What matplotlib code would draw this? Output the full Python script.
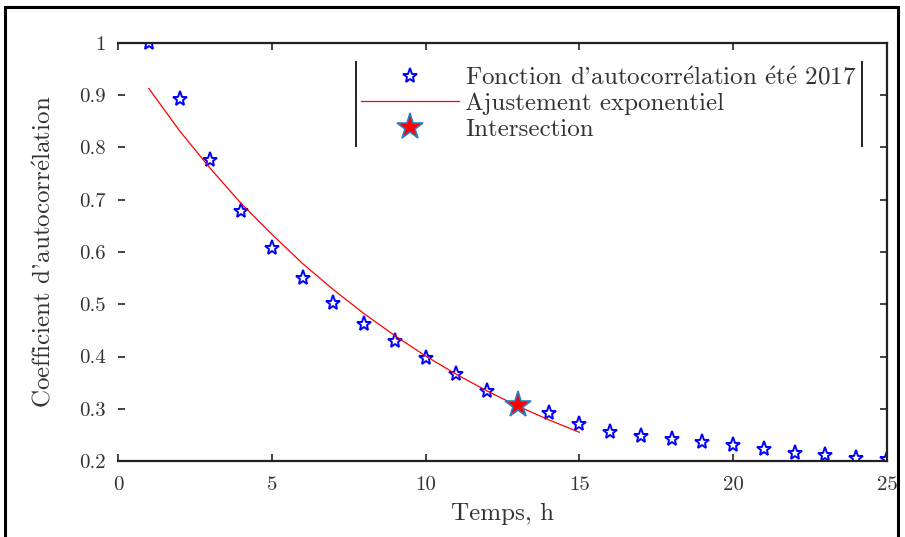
import numpy as np
import matplotlib.pyplot as plt
from matplotlib.patches import Rectangle
from matplotlib.lines import Line2D
from matplotlib.ticker import FuncFormatter

plt.rcParams['font.family'] = ['cmr10', 'DejaVu Serif']
plt.rcParams['mathtext.fontset'] = 'cm'
plt.rcParams['axes.unicode_minus'] = False

# autocorrelation values
lags = [1, 2, 3, 4, 5, 6, 7, 8, 9, 10, 11, 12, 13, 14, 15, 16, 17, 18, 19, 20, 21, 22, 23, 24, 25]
acf = [1.0, 0.893, 0.776, 0.678, 0.608, 0.550, 0.502, 0.462, 0.430, 0.397, 0.367, 0.334,
       0.307, 0.292, 0.271, 0.256, 0.248, 0.242, 0.236, 0.230, 0.223, 0.216, 0.211, 0.206, 0.203]

# exponential fit curve (read at integer times)
fit_t = [1, 2, 3, 4, 5, 6, 7, 8, 9, 10, 11, 12, 13, 14, 15]
fit_v = [0.913, 0.832, 0.760, 0.693, 0.634, 0.578, 0.528, 0.482, 0.440, 0.401, 0.366, 0.334,
         0.305, 0.279, 0.255]

inter_t = [13]
inter_v = [0.307]

e_acc = r'$\mathrm{\acute{e}}$'
lbl_acf = "Fonction d'autocorr" + e_acc + "lation " + e_acc + "t" + e_acc + " 2017"
lbl_y = "Coefficient d'autocorr" + e_acc + "lation"

fig = plt.figure(figsize=(9.05, 5.37), dpi=100)
ax = fig.add_axes([0.1304, 0.1415, 0.8496, 0.7785])

ax.plot(lags, acf, linestyle='none', marker='*', markersize=11, markerfacecolor='none',
        markeredgecolor='blue', markeredgewidth=1.4, label=lbl_acf)
ax.plot(fit_t, fit_v, color='red', linewidth=0.9, label='Ajustement exponentiel')
ax.plot(inter_t, inter_v, linestyle='none', marker='*', markersize=20, markerfacecolor='red',
        markeredgecolor='#2a7fc0', markeredgewidth=1.2, label='Intersection')

ax.set_xlim(0, 25)
ax.set_ylim(0.2, 1.0)
ax.set_xticks([0, 5, 10, 15, 20, 25])
ax.set_yticks([0.2, 0.3, 0.4, 0.5, 0.6, 0.7, 0.8, 0.9, 1.0])
ax.yaxis.set_major_formatter(FuncFormatter(lambda v, p: f'{v:g}'))
ax.tick_params(direction='in', top=True, right=True, labelsize=15, length=5, width=1.2,
               colors='#222222', labelcolor='#333333')
ax.tick_params(axis='x', pad=11)
ax.tick_params(axis='y', pad=9)
for s in ax.spines.values():
    s.set_linewidth(1.6)
    s.set_color('#222222')
ax.spines['left'].set_visible(False)

ax.set_xlabel('Temps, h', fontsize=18, color='#333333', labelpad=6)
ax.set_ylabel(lbl_y, fontsize=18, color='#333333', labelpad=17)

leg = ax.legend(loc='upper right', bbox_to_anchor=(0.967, 0.955), frameon=False, fontsize=18,
                handlelength=3.9, labelspacing=0.12, handletextpad=0.25, borderpad=0.2,
                borderaxespad=0)
for t in leg.get_texts():
    t.set_color('#333333')

# legend box shows only its side edges
fig.canvas.draw()
bb = leg.get_window_extent().transformed(fig.transFigure.inverted())
for xe in (bb.x0, bb.x1):
    fig.add_artist(Line2D([xe, xe], [bb.y0, bb.y1], color='#222222', linewidth=1.4,
                          transform=fig.transFigure))

# frame around the whole figure
fig.add_artist(Rectangle((0.006, -0.02), 0.986, 1.007, fill=False, edgecolor='black',
                         linewidth=2.2, transform=fig.transFigure))

fig.savefig('out.png', dpi=100)
